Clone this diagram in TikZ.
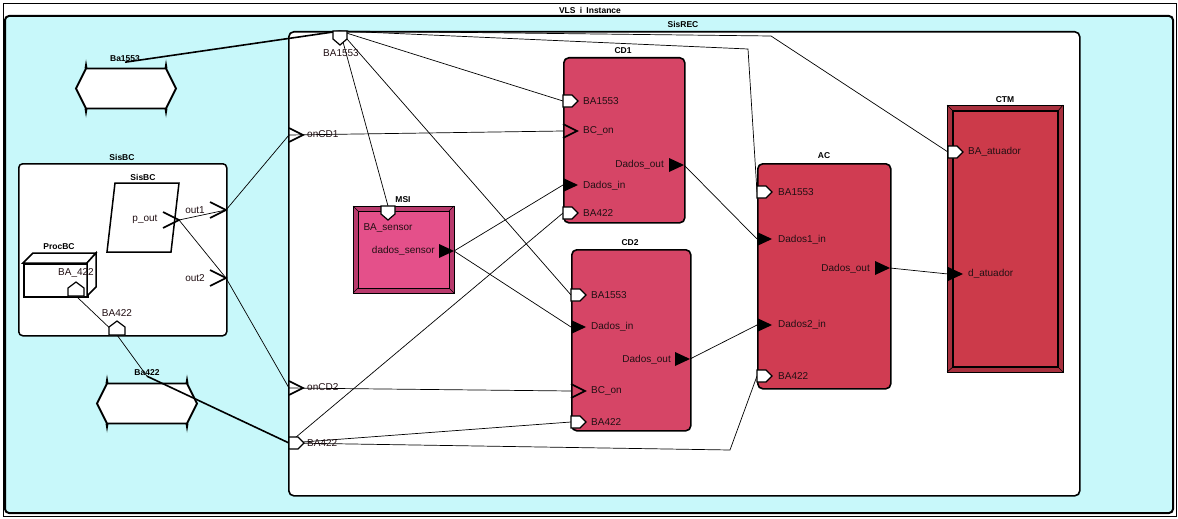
\documentclass[tikz,border=0pt]{standalone}
\usepackage{fontspec}
\setmainfont{Liberation Sans}
\definecolor{bgcyan}{HTML}{C8F8FA}
\definecolor{cdfill}{HTML}{D64566}
\definecolor{acfill}{HTML}{D03C52}
\definecolor{ctmfill}{HTML}{CC3A4A}
\definecolor{ctmframe}{HTML}{A8303E}
\definecolor{msifill}{HTML}{E4508A}
\definecolor{msiframe}{HTML}{B83A6C}
\definecolor{lbl}{HTML}{221014}
\tikzset{
  wire/.style={line width=0.7pt, black},
  thickwire/.style={line width=1.6pt, black},
  plbl/.style={font=\fontsize{10}{11}\selectfont, text=lbl, inner sep=0pt},
  tlbl/.style={font=\bfseries\fontsize{8.5}{9}\selectfont, inner sep=0pt},
  compbox/.style={draw, line width=1.6pt, rounded corners=5pt, anchor=north west, inner sep=0pt},
  pics/pentR/.style={code={\draw[line width=1.2pt, fill=white, line join=miter] (0,-6)--(9,-6)--(15,0)--(9,6)--(0,6)--cycle;}},
  pics/pentD/.style={code={\draw[line width=1.2pt, fill=white, line join=miter] (-7,0)--(7,0)--(7,8)--(0,14)--(-7,8)--cycle;}},
  pics/pentU/.style={code={\draw[line width=1.2pt, fill=white, line join=miter] (-8,0)--(-8,-8)--(0,-14)--(8,-8)--(8,0)--cycle;}},
  pics/chevR/.style={code={\draw[line width=1.6pt, line join=miter] (0,-7)--(14,0)--(0,7);}},
  pics/chevT/.style={code={\draw[line width=1.6pt, line join=miter] (-16,-8)--(0,0)--(-16,8);}},
  pics/triR/.style={code={\fill (0,-7)--(15,0)--(0,7)--cycle;}},
  pics/triT/.style={code={\fill (-15,-7)--(0,0)--(-15,7)--cycle;}},
  pics/hexport/.style={code={
    \draw[line width=1.8pt, fill=white, line join=miter] (-40,-20)--(40,-20)--(50,0)--(40,20)--(-40,20)--(-50,0)--cycle;
    \fill (-41.5,-20)--(-40,-29)--(-38.5,-20)--cycle;
    \fill (38.5,-20)--(40,-29)--(41.5,-20)--cycle;
    \fill (-41.5,20)--(-40,29)--(-38.5,20)--cycle;
    \fill (38.5,20)--(40,29)--(41.5,20)--cycle;}}
}
\begin{document}
\begin{tikzpicture}[x=1pt,y=-1pt]
\useasboundingbox (0,0) rectangle (1178,519);
\fill[white] (0,0) rectangle (1178,519);
% outer instance frame
\draw[line width=0.9pt] (3,3) rectangle (1176,516);
\node[tlbl] (title) at (590,10) {VLS\enspace i\enspace Instance};
\draw[line width=2pt, fill=bgcyan, rounded corners=4pt] (5,16) rectangle (1173,513);
% SisREC
\node[tlbl] (lSisREC) at (683,24) {SisREC};
\node[compbox, fill=white, minimum width=791pt, minimum height=464pt] (SisREC) at (288,31) {};
% external ports
\pic at (126,88.5) {hexport};
\node[tlbl] (lBa1553) at (125,59) {Ba1553};
\pic at (147,403.5) {hexport};
\node[tlbl] (lBa422) at (147,373) {Ba422};
% SisBC
\node[tlbl] (lSisBCo) at (122,157) {SisBC};
\node[compbox, line width=1.5pt, rounded corners=4pt, fill=white, minimum width=208pt, minimum height=172pt] (SisBCo) at (18,163) {};
\draw[line width=1.5pt, fill=white, line join=miter] (115,183)--(179,183)--(171,252)--(107,252)--cycle;
\node[tlbl] (lSisBCi) at (143,177) {SisBC};
% ProcBC
\node[draw, line width=1.5pt, fill=white, minimum width=64pt, minimum height=33pt, anchor=north west, inner sep=0pt] (ProcBC) at (23,263) {};
\draw[line width=1.5pt, fill=white, line join=miter] (23,263)--(33,253)--(96,253)--(87,263)--cycle;
\draw[line width=1.5pt, fill=white, line join=miter] (87,263)--(96,253)--(96,287)--(87,296)--cycle;
\node[tlbl] (lProcBC) at (59,247) {ProcBC};
% MSI
\node[draw, line width=1.3pt, fill=msiframe, minimum width=101pt, minimum height=87pt, anchor=north west, inner sep=0pt] (MSI) at (353,206) {};
\draw[line width=0.9pt, fill=msifill] (358,211) rectangle (449,288);
\draw[line width=0.6pt] (353,206)--(358,211) (454,206)--(449,211) (353,293)--(358,288) (454,293)--(449,288);
\node[tlbl] (lMSI) at (403,200) {MSI};
% CD1, CD2, AC
\node[compbox, fill=cdfill, minimum width=121pt, minimum height=165pt] (CD1) at (563,57) {};
\node[tlbl] (lCD1) at (623,51) {CD1};
\node[compbox, fill=cdfill, minimum width=119pt, minimum height=181pt] (CD2) at (571,249) {};
\node[tlbl] (lCD2) at (630,243) {CD2};
\node[compbox, fill=acfill, minimum width=133pt, minimum height=225pt] (AC) at (757,163) {};
\node[tlbl] (lAC) at (824,156) {AC};
% CTM
\node[draw, line width=1.3pt, fill=ctmframe, minimum width=116pt, minimum height=267pt, anchor=north west, inner sep=0pt] (CTM) at (947,105) {};
\draw[line width=1.3pt, fill=ctmfill] (953,111) rectangle (1058,367);
\draw[line width=0.6pt] (947,105)--(953,111) (1063,105)--(1058,111) (947,372)--(953,367) (1063,372)--(1058,367);
\node[tlbl] (lCTM) at (1005,100) {CTM};
% port anchor coordinates
\coordinate (sBA1553) at (340,31);
\coordinate (onCD1) at (289,135);
\coordinate (onCD2) at (289,388);
\coordinate (sBA422) at (289,443);
\coordinate (c1BA1553) at (563,101);
\coordinate (c1BCon) at (563,131);
\coordinate (c1Dout) at (684,165);
\coordinate (c1Din) at (563,185);
\coordinate (c1BA422) at (563,213);
\coordinate (c2BA1553) at (571,295);
\coordinate (c2Din) at (571,327);
\coordinate (c2Dout) at (690,359);
\coordinate (c2BCon) at (571,391);
\coordinate (c2BA422) at (571,422);
\coordinate (aBA1553) at (757,192);
\coordinate (aD1in) at (757,239);
\coordinate (aDout) at (890,268);
\coordinate (aD2in) at (757,325);
\coordinate (aBA422) at (757,376);
\coordinate (tBA) at (948,152);
\coordinate (tDat) at (948,274);
\coordinate (mBA) at (388,206);
\coordinate (mDout) at (454,251);
\coordinate (out1) at (226,210);
\coordinate (out2) at (226,278);
\coordinate (sbBA422) at (117,335);
\coordinate (pout) at (179,220);
\coordinate (pBA) at (76,296);
\coordinate (kAC) at (748,49);
\coordinate (kCTM) at (771,36);
\coordinate (kAC2) at (730,450);
% connectors
\draw[thickwire] (lBa1553.south) -- (sBA1553);
\draw[thickwire] (lBa422.south) -- (sBA422);
\draw[wire] (pBA) -- (sbBA422);
\draw[wire] (sbBA422) -- (lBa422.south);
\draw[wire] (sBA1553) -- (c1BA1553);
\draw[wire] (sBA1553) -- (mBA);
\draw[wire] (sBA1553) -- (c2BA1553);
\draw[wire] (sBA1553) -- (kAC) -- (aBA1553);
\draw[wire] (sBA1553) -- (kCTM) -- (tBA);
\draw[wire] (pout) -- (out1);
\draw[wire] (pout) -- (out2);
\draw[wire] (out1) -- (onCD1);
\draw[wire] (out2) -- (onCD2);
\draw[wire] (onCD1) -- (c1BCon);
\draw[wire] (onCD2) -- (c2BCon);
\draw[wire] (sBA422) -- (c1BA422);
\draw[wire] (sBA422) -- (c2BA422);
\draw[wire] (sBA422) -- (kAC2) -- (aBA422);
\draw[wire] (mDout) -- (c1Din);
\draw[wire] (mDout) -- (c2Din);
\draw[wire] (c1Dout) -- (aD1in);
\draw[wire] (c2Dout) -- (aD2in);
\draw[wire] (aDout) -- (tDat);
% port shapes
\pic at (sBA1553) {pentD};
\pic at (onCD1) {chevR};
\pic at (onCD2) {chevR};
\pic at (sBA422) {pentR};
\pic at (c1BA1553) {pentR};
\pic at (c1BCon) {chevR};
\pic at (c1Dout) {triT};
\pic at (c1Din) {triR};
\pic at (c1BA422) {pentR};
\pic at (c2BA1553) {pentR};
\pic at (c2Din) {triR};
\pic at (c2Dout) {triT};
\pic at (c2BCon) {chevR};
\pic at (c2BA422) {pentR};
\pic at (aBA1553) {pentR};
\pic at (aD1in) {triR};
\pic at (aDout) {triT};
\pic at (aD2in) {triR};
\pic at (aBA422) {pentR};
\pic at (tBA) {pentR};
\pic at (tDat) {triR};
\pic at (mBA) {pentD};
\pic at (mDout) {triT};
\pic at (out1) {chevT};
\pic at (out2) {chevT};
\pic at (sbBA422) {pentU};
\pic at (pout) {chevT};
\pic at (pBA) {pentU};
% port labels
\node[plbl] (tsBA1553) at (341,53) {BA1553};
\node[plbl, anchor=west] (tonCD1) at (307,134.5) {onCD1};
\node[plbl, anchor=west] (tonCD2) at (307,387.5) {onCD2};
\node[plbl, anchor=west] (tsBA422) at (307,443) {BA422};
\node[plbl, anchor=west] (tc1BA1553) at (583,101) {BA1553};
\node[plbl, anchor=west] (tc1BCon) at (583,131) {BC\_on};
\node[plbl, anchor=east] (tc1Dout) at (664,165) {Dados\_out};
\node[plbl, anchor=west] (tc1Din) at (583,185.5) {Dados\_in};
\node[plbl, anchor=west] (tc1BA422) at (583,213) {BA422};
\node[plbl, anchor=west] (tc2BA1553) at (591,295) {BA1553};
\node[plbl, anchor=west] (tc2Din) at (591,327) {Dados\_in};
\node[plbl, anchor=east] (tc2Dout) at (671,359.5) {Dados\_out};
\node[plbl, anchor=west] (tc2BCon) at (591,391) {BC\_on};
\node[plbl, anchor=west] (tc2BA422) at (591,422) {BA422};
\node[plbl, anchor=west] (taBA1553) at (778,192) {BA1553};
\node[plbl, anchor=west] (taD1in) at (778,239.5) {Dados1\_in};
\node[plbl, anchor=east] (taDout) at (870,268.5) {Dados\_out};
\node[plbl, anchor=west] (taD2in) at (778,325) {Dados2\_in};
\node[plbl, anchor=west] (taBA422) at (778,376) {BA422};
\node[plbl, anchor=west] (ttBA) at (968,152) {BA\_atuador};
\node[plbl, anchor=west] (ttDat) at (968,274) {d\_atuador};
\node[plbl] (tmBA) at (388,228) {BA\_sensor};
\node[plbl, anchor=east] (tmDout) at (435,251) {dados\_sensor};
\node[plbl] (tout1) at (195,210) {out1};
\node[plbl] (tout2) at (195,278) {out2};
\node[plbl] (tpout) at (145,219.5) {p\_out};
\node[plbl] (tsbBA422) at (117,313) {BA422};
\node[plbl] (tpBA) at (76,273) {BA\_422};
\end{tikzpicture}
\end{document}
